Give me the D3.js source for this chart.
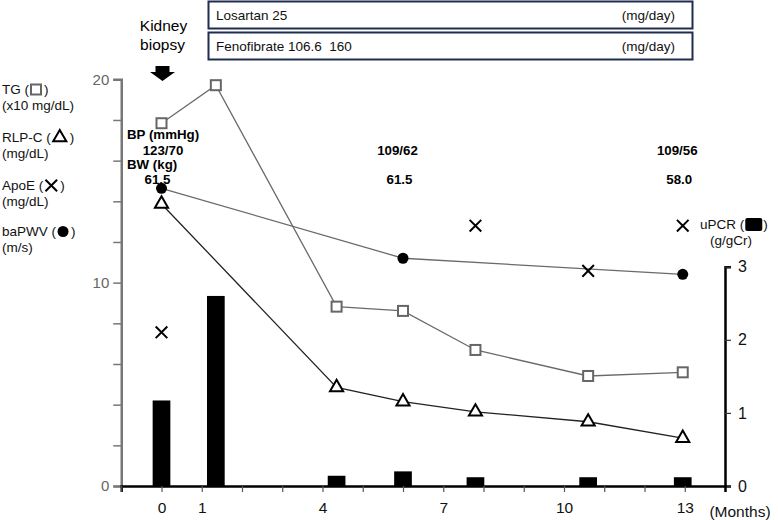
<!DOCTYPE html>
<html>
<head>
<meta charset="utf-8">
<script src="https://cdn.jsdelivr.net/npm/d3@7"></script>
<style>
  body { margin: 0; background: #fff; }
  text { font-family: "Liberation Sans", Arial, sans-serif; }
</style>
</head>
<body>
<div id="chart"></div>
<script>
// visit months and values
var months = [0, 1.35, 4.35, 6, 7.8, 10.6, 12.95];
var tg = [17.84, 19.71, 8.82, 8.61, 6.69, 5.41, 5.59];          // x10 mg/dL
var rlpc = [13.87, null, 4.85, 4.15, 3.65, 3.16, 2.35];         // mg/dL
var apoe = [7.56, null, null, null, 12.8, 10.58, 12.8];         // mg/dL
var pwv = [14.64, null, null, 11.2, null, null, 10.41];         // m/s
var upcr = [1.17, 2.6, 0.14, 0.2, 0.12, 0.12, 0.12];            // g/gCr
var monthTicks = d3.range(-1, 14);
var monthLabels = [0, 1, 4, 7, 10, 13];
var leftTicks = d3.range(0, 21, 2);
var leftLabels = [0, 10, 20];
var rightTicks = [0, 1, 2, 3];
var bpMonths = [0, 6, 12.95];
var bpText = ["123/70", "109/62", "109/56"];
var bwText = ["61.5", "61.5", "58.0"];
var drugs = [["Losartan 25", "(mg/day)"], ["Fenofibrate 106.6  160", "(mg/day)"]];

var width = 778, height = 520;
var svg = d3.select("#chart").append("svg")
    .attr("width", width)
    .attr("height", height);

var x = d3.scaleLinear().domain([-1, 14]).range([121.25, 725]);
var yL = d3.scaleLinear().domain([0, 20]).range([486, 79.3]);
var yR = d3.scaleLinear().domain([0, 3]).range([486, 266.7]);

// left axis (grey)
var leftAxis = svg.append("g")
    .attr("transform", "translate(" + x(-1) + ",0)")
    .call(d3.axisLeft(yL).tickValues(leftTicks).tickSize(8)
      .tickFormat(function(d) { return leftLabels.indexOf(d) >= 0 ? d : ""; }));
leftAxis.select(".domain").attr("stroke", "#777").attr("stroke-width", 2.5);
leftAxis.selectAll(".tick line").attr("stroke", "#777").attr("stroke-width", 1.5);
leftAxis.selectAll(".tick text").attr("fill", "#666").attr("font-size", 15)
    .attr("font-family", "Liberation Sans, Arial, sans-serif").attr("x", -12);

// right axis (black)
var rightAxis = svg.append("g")
    .attr("transform", "translate(" + x(14) + ",0)")
    .call(d3.axisRight(yR).tickValues(rightTicks).tickSize(6).tickFormat(d3.format("d")));
rightAxis.select(".domain").attr("stroke", "#000").attr("stroke-width", 2.5);
rightAxis.selectAll(".tick line").attr("stroke", "#333").attr("stroke-width", 1.2);
rightAxis.selectAll(".tick text").attr("fill", "#111").attr("font-size", 16)
    .attr("font-family", "Liberation Sans, Arial, sans-serif").attr("x", 13);

// bottom axis
var bottomAxis = svg.append("g")
    .attr("transform", "translate(0," + yL(0) + ")")
    .call(d3.axisBottom(x).tickValues(monthTicks).tickSize(6)
      .tickFormat(function(d) { return monthLabels.indexOf(d) >= 0 ? d : ""; }));
bottomAxis.select(".domain").attr("stroke", "#000").attr("stroke-width", 2.5);
bottomAxis.selectAll(".tick line").attr("stroke", "#555").attr("stroke-width", 1.2);
bottomAxis.selectAll(".tick text").attr("fill", "#111").attr("font-size", 15.5)
    .attr("font-family", "Liberation Sans, Arial, sans-serif").attr("y", 16);

svg.append("text")
    .attr("x", 740).attr("y", 517)
    .attr("text-anchor", "middle")
    .attr("font-size", 15.5).attr("fill", "#111")
    .text("(Months)");

// uPCR bars
var barW = 17.7;
svg.selectAll(".bar")
    .data(upcr)
    .enter().append("rect")
    .attr("class", "bar")
    .attr("x", function(d, i) { return x(months[i]) - barW / 2; })
    .attr("y", function(d) { return yR(d); })
    .attr("width", barW)
    .attr("height", function(d) { return yR(0) - yR(d); })
    .attr("fill", "#000");

// lines
function drawLine(vals, color) {
  var pts = vals.map(function(v, i) { return [months[i], v]; })
                .filter(function(p) { return p[1] != null; });
  svg.append("path")
    .datum(pts)
    .attr("fill", "none")
    .attr("stroke", color)
    .attr("stroke-width", 1.3)
    .attr("d", d3.line().x(function(p) { return x(p[0]); }).y(function(p) { return yL(p[1]); }));
}
drawLine(tg, "#6a6a6a");
drawLine(pwv, "#6a6a6a");
drawLine(rlpc, "#222");

// markers
var triangle = d3.symbol().type(d3.symbolTriangle).size(75);
var circle = d3.symbol().type(d3.symbolCircle).size(95);
var cross = d3.symbol().type(d3.symbolX).size(90);

function drawMarkers(vals, fn) {
  vals.forEach(function(v, i) {
    if (v == null) return;
    fn(svg.append("g").attr("transform", "translate(" + x(months[i]) + "," + yL(v) + ")"));
  });
}
function squareMark(g) {
  g.append("rect").attr("x", -5).attr("y", -5).attr("width", 10).attr("height", 10)
    .attr("fill", "#fff").attr("stroke", "#666").attr("stroke-width", 2);
}
function triMark(g) {
  g.append("path").attr("d", triangle).attr("fill", "#fff").attr("stroke", "#000").attr("stroke-width", 2);
}
function circMark(g) {
  g.append("path").attr("d", circle).attr("fill", "#000");
}
function crossMark(g) {
  g.append("path").attr("d", cross).attr("fill", "none").attr("stroke", "#000").attr("stroke-width", 2);
}
drawMarkers(tg, squareMark);
drawMarkers(rlpc, triMark);
drawMarkers(apoe, crossMark);
drawMarkers(pwv, circMark);

// BP / BW notes
svg.append("text").attr("x", x(0) - 34.5).attr("y", 139)
    .attr("font-size", 13.3).attr("font-weight", "bold").text("BP (mmHg)");
svg.append("text").attr("x", x(0) - 34.5).attr("y", 169)
    .attr("font-size", 13.3).attr("font-weight", "bold").text("BW (kg)");
bpMonths.forEach(function(m, i) {
  var off = i == 0 ? 1.5 : -5.5;
  svg.append("text").attr("x", x(m) + off).attr("y", 155).attr("text-anchor", "middle")
    .attr("font-size", 13.3).attr("font-weight", "bold").text(bpText[i]);
  svg.append("text").attr("x", x(m) + (i == 0 ? -4 : -3.5)).attr("y", 184).attr("text-anchor", "middle")
    .attr("font-size", 13.3).attr("font-weight", "bold").text(bwText[i]);
});

// kidney biopsy arrow
svg.append("text").attr("x", x(0) + 2).attr("y", 31).attr("text-anchor", "middle")
    .attr("font-size", 15.5).text("Kidney");
svg.append("text").attr("x", x(0) + 1).attr("y", 50).attr("text-anchor", "middle")
    .attr("font-size", 15.5).text("biopsy");
var ax = x(0) + 1;
svg.append("path")
    .attr("d", "M" + (ax - 7) + ",66 L" + (ax + 7) + ",66 L" + (ax + 7) + ",72 L" + (ax + 12.5) + ",72 L" + ax + ",81 L" + (ax - 12.5) + ",72 L" + (ax - 7) + ",72 Z")
    .attr("fill", "#000");

// drug boxes
drugs.forEach(function(d, i) {
  var top = i == 0 ? 1.5 : 32.5;
  svg.append("rect").attr("x", 208.5).attr("y", top).attr("width", 484).attr("height", 27)
    .attr("fill", "#fff").attr("stroke", "#1f2d4f").attr("stroke-width", 2);
  svg.append("text").attr("x", 216).attr("y", top + 18.3).attr("font-size", 13.5)
    .attr("fill", "#111").style("white-space", "pre").text(d[0]);
  svg.append("text").attr("x", 675).attr("y", top + 18.3).attr("font-size", 13.5)
    .attr("text-anchor", "end").attr("fill", "#111").text(d[1]);
});

// left side legend labels with their marker
function legendLabel(px, py, name, unit, fn, half) {
  var t = svg.append("text").attr("x", px).attr("y", py).attr("font-size", 13.5).attr("fill", "#111").text(name + " (");
  var w = t.node().getComputedTextLength();
  fn(svg.append("g").attr("transform", "translate(" + (px + w + 1 + half) + "," + (py - 4.5) + ")"));
  svg.append("text").attr("x", px + w + 3 + 2 * half).attr("y", py).attr("font-size", 13.5).attr("fill", "#111").text(")");
  svg.append("text").attr("x", px).attr("y", py + 15.5).attr("font-size", 13.5).attr("fill", "#111").text(unit);
}
legendLabel(2, 94, "TG", "(x10 mg/dL)", squareMark, 6);
legendLabel(2, 142, "RLP-C", "(mg/dL)", triMark, 8);
legendLabel(2, 190, "ApoE", "(mg/dL)", crossMark, 7);
legendLabel(2, 236, "baPWV", "(m/s)", circMark, 6);

// uPCR label on the right
var ut = svg.append("text").attr("x", 700).attr("y", 229).attr("font-size", 13.5).attr("fill", "#111").text("uPCR (");
var uw = ut.node().getComputedTextLength();
svg.append("rect").attr("x", 700 + uw + 1).attr("y", 218).attr("width", 17).attr("height", 13)
    .attr("rx", 2).attr("fill", "#000");
svg.append("text").attr("x", 700 + uw + 19).attr("y", 229).attr("font-size", 13.5).attr("fill", "#111").text(")");
svg.append("text").attr("x", 710).attr("y", 245).attr("font-size", 13.5).attr("fill", "#111").text("(g/gCr)");
</script>
</body>
</html>
